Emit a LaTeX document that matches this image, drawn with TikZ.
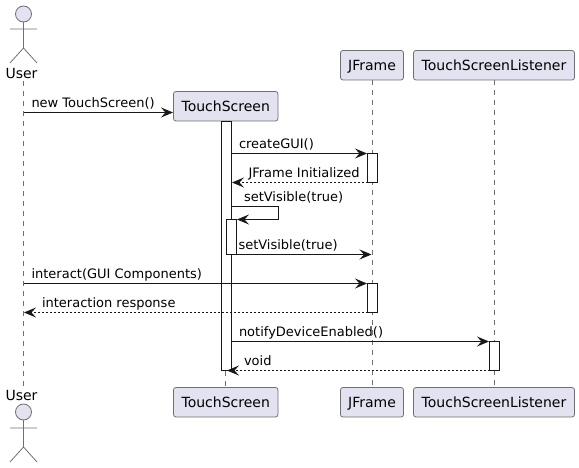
\documentclass[tikz,border=0pt]{standalone}
\usepackage{fontspec}
\setmainfont{DejaVu Sans}
\usetikzlibrary{arrows.meta}
\definecolor{boxfill}{HTML}{E2E2F0}
\definecolor{umlline}{HTML}{181818}
\definecolor{thinline}{HTML}{707070}
\begin{document}
\begin{tikzpicture}[x=1pt,y=-1pt,line width=1pt,color=umlline,
  part/.style={draw=thinline,line width=0.8pt,fill=boxfill,rounded corners=2.5pt,inner sep=0pt,minimum height=29.5pt,text height=10pt,text depth=0pt,font=\fontsize{14}{16}\selectfont,text=black},
  who/.style={inner sep=0pt,anchor=base,font=\fontsize{14}{16}\selectfont,text=black},
  figure/.style={draw=thinline,line width=0.8pt},
  life/.style={draw=thinline,line width=0.8pt,dash pattern=on 5pt off 5pt},
  bar/.style={draw,fill=white},
  msg/.style={-{Stealth[length=12pt,width=10pt,inset=4.5pt]}},
  back/.style={msg,dash pattern=on 2pt off 2pt},
  txt/.style={inner sep=0pt,anchor=base west,font=\fontsize{13}{15}\selectfont,text=black}]
\useasboundingbox (0,0) rectangle (579,468);
% participants
\node[part,minimum width=104.5pt] (TS) at (225.75,106.25) {TouchScreen};
\node[part,minimum width=63pt] (JF) at (372,65.25) {JFrame};
\node[part,minimum width=161pt] (TL) at (494,65.25) {TouchScreenListener};
\node[part,minimum width=104.5pt] (TSb) at (225.75,402.25) {TouchScreen};
\node[part,minimum width=63pt] (JFb) at (372,402.25) {JFrame};
\node[part,minimum width=161pt] (TLb) at (494,402.25) {TouchScreenListener};
\node[who] (U) at (21.5,78.5) {User};
\node[who] (Ub) at (21.5,400.5) {User};
% lifelines
\coordinate (Ut) at (23.5,81);
\coordinate (Ue) at (23.5,387);
\draw[life] (Ut)--(Ue);
\draw[life] (TS.south)--(TSb.north);
\draw[life] (JF.south)--(JFb.north);
\draw[life] (TL.south)--(TLb.north);
% actors
\draw[figure,fill=boxfill] (23.5,14) circle (8);
\draw[figure] (23.5,22)--(23.5,48) (10,29)--(37,29) (10,63)--(23.5,48)--(37,63);
\draw[figure,fill=boxfill] (23.5,412) circle (8);
\draw[figure] (23.5,420)--(23.5,447) (10,428)--(37,428) (10,462)--(23.5,447)--(37,462);
% activation bars
\draw[bar] (221.5,122) rectangle (231.5,370.5);
\draw[bar] (226.5,219.5) rectangle (236.5,254.5);
\draw[bar] (367.5,153.5) rectangle (377.5,182.5);
\draw[bar] (367.5,283.5) rectangle (377.5,312.5);
\draw[bar] (489.5,341.5) rectangle (499.5,370.5);
% messages
\coordinate (M1a) at (23.5,112.5);
\coordinate (M1b) at (173,112.5);
\draw[msg] (M1a)--(M1b);
\node[txt] (L1) at (31,107.5) {new TouchScreen()};
\coordinate (M2a) at (231.5,153.5);
\coordinate (M2b) at (367,153.5);
\draw[msg] (M2a)--(M2b);
\node[txt] (L2) at (238.5,149) {createGUI()};
\coordinate (M3a) at (367.5,182.5);
\coordinate (M3b) at (232,182.5);
\draw[back] (M3a)--(M3b);
\node[txt] (L3) at (248,178) {JFrame Initialized};
\coordinate (M4a) at (231.5,206.5);
\coordinate (M4b) at (278.5,206.5);
\coordinate (M4c) at (278.5,219.5);
\coordinate (M4d) at (237,219.5);
\draw[msg] (M4a)--(M4b)--(M4c)--(M4d);
\node[txt] (L4) at (243.5,201.5) {setVisible(true)};
\coordinate (M5a) at (236.5,254.5);
\coordinate (M5b) at (371.5,254.5);
\draw[msg] (M5a)--(M5b);
\node[txt] (L5) at (238,249.5) {setVisible(true)};
\coordinate (M6a) at (23.5,283.5);
\coordinate (M6b) at (367,283.5);
\draw[msg] (M6a)--(M6b);
\node[txt] (L6) at (31,278.5) {interact(GUI Components)};
\coordinate (M7a) at (367.5,312.5);
\coordinate (M7b) at (24,312.5);
\draw[back] (M7a)--(M7b);
\node[txt] (L7) at (41.5,307.5) {interaction response};
\coordinate (M8a) at (231.5,341.5);
\coordinate (M8b) at (489,341.5);
\draw[msg] (M8a)--(M8b);
\node[txt] (L8) at (238.5,336.5) {notifyDeviceEnabled()};
\coordinate (M9a) at (489.5,370.5);
\coordinate (M9b) at (227,370.5);
\draw[back] (M9a)--(M9b);
\node[txt] (L9) at (243.5,365.5) {void};
\end{tikzpicture}
\end{document}
